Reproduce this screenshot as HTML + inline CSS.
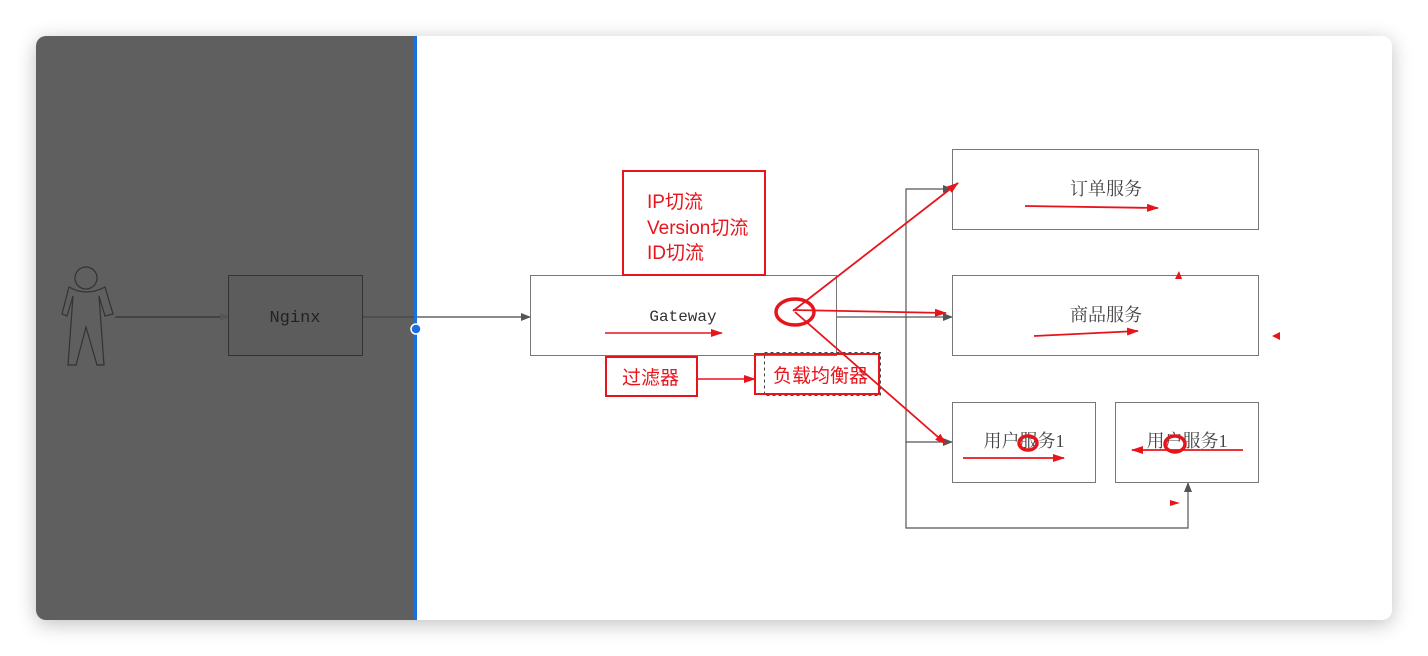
<!DOCTYPE html>
<html><head><meta charset="utf-8"><style>
html,body{margin:0;padding:0;background:#fff;}
svg{display:block;}
</style></head><body>
<svg width="1428" height="656" viewBox="0 0 1428 656" xmlns="http://www.w3.org/2000/svg" font-family="'Liberation Mono','Noto Sans CJK SC',monospace">
<defs>
<filter id="sh" x="-5%" y="-5%" width="110%" height="115%"><feGaussianBlur stdDeviation="10"/></filter>
<marker id="ag" markerWidth="10" markerHeight="8" refX="9" refY="4" orient="auto" markerUnits="userSpaceOnUse"><path d="M0,0 L10,4 L0,8 z" fill="#555"/></marker>
<marker id="ar" markerWidth="12" markerHeight="8" refX="11" refY="4" orient="auto" markerUnits="userSpaceOnUse"><path d="M0,0 L12,4 L0,8 z" fill="#e8141c"/></marker>
</defs>
<rect x="36" y="40" width="1356" height="584" rx="10" fill="#000" opacity="0.25" filter="url(#sh)"/>
<rect x="36" y="36" width="1356" height="584" rx="10" fill="#fff"/>
<path d="M46,36 H415 V620 H46 A10,10 0 0 1 36,610 V46 A10,10 0 0 1 46,36 z" fill="#5f5f5f"/>
<g fill="none" stroke="#333" stroke-width="1.2">
<ellipse cx="86" cy="278" rx="11" ry="11"/>
<path d="M69,287 L62,314 L67,316 L73,296 L68,365 L76,365 L86,327 L97,365 L104,365 L99,296 L105,316 L113,314 L105,287 Q86,297 69,287 z"/>
</g>
<line x1="115" y1="317" x2="229" y2="317" stroke="#333" stroke-width="1.2" marker-end="url(#ag)"/>
<rect x="228.5" y="275.5" width="134" height="80" fill="#5c5c5c" stroke="#333"/>
<text x="295" y="322" font-size="17" text-anchor="middle" fill="#222">Nginx</text>
<line x1="363" y1="317" x2="530" y2="317" stroke="#444" stroke-width="1.2" marker-end="url(#ag)"/>
<rect x="414" y="36" width="3" height="584" fill="#1a6fe0"/>
<circle cx="416" cy="329" r="5" fill="#1a6fe0" stroke="#fff" stroke-width="1.5"/>
<rect x="530.5" y="275.5" width="306" height="80" fill="#fff" stroke="#777"/>
<text x="683" y="321" font-size="16" text-anchor="middle" fill="#333">Gateway</text>
<line x1="605" y1="333" x2="722" y2="333" stroke="#e8141c" stroke-width="1.5" marker-end="url(#ar)"/>
<rect x="623" y="171" width="142" height="104" fill="#fff" stroke="#e8141c" stroke-width="2"/>
<g font-family="'Liberation Sans','Noto Sans CJK SC',sans-serif" font-size="19" fill="#e8141c">
<text x="647" y="208">IP切流</text>
<text x="647" y="234">Version切流</text>
<text x="647" y="259">ID切流</text>
<text x="622" y="384">过滤器</text>
<text x="773" y="382">负载均衡器</text>
</g>
<rect x="606" y="357" width="91" height="39" fill="none" stroke="#e8141c" stroke-width="2"/>
<line x1="697" y1="379" x2="755" y2="379" stroke="#e8141c" stroke-width="1.5" marker-end="url(#ar)"/>
<rect x="764.5" y="352.5" width="116" height="43" fill="none" stroke="#444" stroke-dasharray="3,3"/>
<rect x="755" y="354" width="124" height="40" fill="none" stroke="#e8141c" stroke-width="2"/>
<g stroke="#555" stroke-width="1.2" fill="none">
<path d="M837,317 H952" marker-end="url(#ag)"/>
<path d="M906,317 V189 H952" marker-end="url(#ag)"/>
<path d="M906,317 V442 H952" marker-end="url(#ag)"/>
<path d="M906,442 V528 H1188 V483" marker-end="url(#ag)"/>
</g>
<g fill="#fff" stroke="#777">
<rect x="952.5" y="149.5" width="306" height="80"/>
<rect x="952.5" y="275.5" width="306" height="80"/>
<rect x="952.5" y="402.5" width="143" height="80"/>
<rect x="1115.5" y="402.5" width="143" height="80"/>
</g>
<g font-family="'Liberation Serif','Noto Serif CJK SC',serif" font-size="18" fill="#444" text-anchor="middle">
<text x="1106" y="195">订单服务</text>
<text x="1106" y="321">商品服务</text>
<text x="1024" y="447">用户服务1</text>
<text x="1187" y="447">用户服务1</text>
</g>
<g stroke="#e8141c" stroke-width="1.8" fill="none">
<ellipse cx="795" cy="312" rx="19" ry="13" stroke-width="3.5"/>
<line x1="793" y1="311" x2="958" y2="183" marker-end="url(#ar)"/>
<line x1="793" y1="310" x2="946" y2="313" marker-end="url(#ar)"/>
<line x1="795" y1="312" x2="946" y2="444" marker-end="url(#ar)"/>
<line x1="1025" y1="206" x2="1158" y2="208" marker-end="url(#ar)"/>
<line x1="1034" y1="336" x2="1138" y2="331" marker-end="url(#ar)"/>
<line x1="963" y1="458" x2="1064" y2="458" marker-end="url(#ar)"/>
<line x1="1243" y1="450" x2="1132" y2="450" marker-end="url(#ar)"/>
<ellipse cx="1028" cy="443" rx="9" ry="7" stroke-width="3.5"/>
<ellipse cx="1175" cy="444" rx="10" ry="8" stroke-width="3.5"/>
</g>
<g fill="#e8141c">
<path d="M1175,279 L1179,271 L1182,279 z"/>
<path d="M1272,336 L1280,332 L1280,340 z"/>
<path d="M1170,500 L1180,503 L1170,506 z"/>
</g>
</svg>
</body></html>
